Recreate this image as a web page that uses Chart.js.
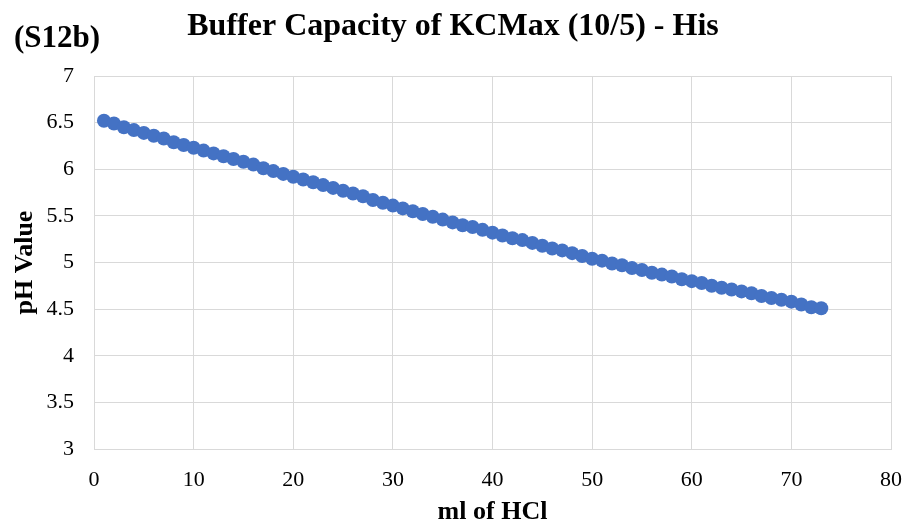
<!DOCTYPE html>
<html>
<head>
<meta charset="utf-8">
<script src="https://cdn.jsdelivr.net/npm/chart.js@4"></script>
<style>
  html, body { margin: 0; padding: 0; background: #fff; }
  #wrap { width: 905px; height: 528px; }
</style>
</head>
<body>
<div id="wrap"><canvas id="bufferChart" width="905" height="528"></canvas></div>
<script>
// ml of HCl added
const mlHCl = [
  1, 2, 3, 4, 5, 6, 7, 8, 9, 10,
  11, 12, 13, 14, 15, 16, 17, 18, 19, 20,
  21, 22, 23, 24, 25, 26, 27, 28, 29, 30,
  31, 32, 33, 34, 35, 36, 37, 38, 39, 40,
  41, 42, 43, 44, 45, 46, 47, 48, 49, 50,
  51, 52, 53, 54, 55, 56, 57, 58, 59, 60,
  61, 62, 63, 64, 65, 66, 67, 68, 69, 70,
  71, 72, 73
];
// measured pH
const phValues = [
  6.52, 6.49, 6.45, 6.42, 6.39, 6.36, 6.33, 6.29, 6.26, 6.23,
  6.20, 6.17, 6.14, 6.11, 6.08, 6.05, 6.01, 5.98, 5.95, 5.92,
  5.89, 5.86, 5.83, 5.80, 5.77, 5.74, 5.71, 5.67, 5.64, 5.61,
  5.58, 5.55, 5.52, 5.49, 5.46, 5.43, 5.40, 5.38, 5.35, 5.32,
  5.29, 5.26, 5.24, 5.21, 5.18, 5.15, 5.13, 5.10, 5.07, 5.04,
  5.02, 4.99, 4.97, 4.94, 4.92, 4.89, 4.87, 4.85, 4.82, 4.80,
  4.78, 4.75, 4.73, 4.71, 4.69, 4.67, 4.64, 4.62, 4.60, 4.58,
  4.55, 4.52, 4.51
];

const chartTitle = 'Buffer Capacity of KCMax (10/5) - His';
const panelLabel = '(S12b)';
const xTitle = 'ml of HCl';
const yTitle = 'pH Value';

const serif = '"Liberation Serif", "Times New Roman", serif';

// titles drawn by hand so they sit where they should
const textPlugin = {
  id: 'textPlugin',
  afterDraw(chart) {
    const ctx = chart.ctx;
    const area = chart.chartArea;
    ctx.save();
    ctx.fillStyle = '#000';
    ctx.textBaseline = 'middle';

    ctx.font = 'bold 32px ' + serif;
    ctx.textAlign = 'center';
    ctx.fillText(chartTitle, 453, 27);

    ctx.font = 'bold 31px ' + serif;
    ctx.textAlign = 'left';
    ctx.fillText(panelLabel, 14, 39);

    ctx.font = 'bold 26px ' + serif;
    ctx.textAlign = 'center';
    ctx.fillText(xTitle, (area.left + area.right) / 2, 512);

    ctx.translate(25, (area.top + area.bottom) / 2);
    ctx.rotate(-Math.PI / 2);
    ctx.fillText(yTitle, 0, 0);
    ctx.restore();
  }
};

const points = mlHCl.map((x, i) => ({ x: x, y: phValues[i] }));

new Chart(document.getElementById('bufferChart'), {
  type: 'scatter',
  data: {
    datasets: [{
      data: points,
      backgroundColor: '#4472C4',
      borderColor: '#4472C4',
      pointRadius: 7,
      pointHoverRadius: 7,
      borderWidth: 0
    }]
  },
  options: {
    responsive: false,
    animation: false,
    layout: { padding: { top: 76, right: 0, left: 0, bottom: 0 } },
    plugins: {
      legend: { display: false },
      tooltip: { enabled: false }
    },
    scales: {
      x: {
        type: 'linear',
        min: 0,
        max: 80,
        ticks: {
          stepSize: 10,
          padding: 18,
          color: '#000',
          font: { family: serif, size: 22 }
        },
        grid: { color: '#d9d9d9', lineWidth: 1, drawTicks: false },
        border: { color: '#d9d9d9' },
        afterFit(scale) {
          scale.height = 79;
          scale.paddingRight = 14;
        }
      },
      y: {
        min: 3,
        max: 7,
        ticks: {
          stepSize: 0.5,
          padding: 20,
          color: '#000',
          font: { family: serif, size: 22 },
          callback: (v) => String(v)
        },
        grid: { color: '#d9d9d9', lineWidth: 1, drawTicks: false },
        border: { color: '#d9d9d9' },
        afterFit(scale) { scale.width = 94; }
      }
    }
  },
  plugins: [textPlugin]
});
</script>
</body>
</html>
